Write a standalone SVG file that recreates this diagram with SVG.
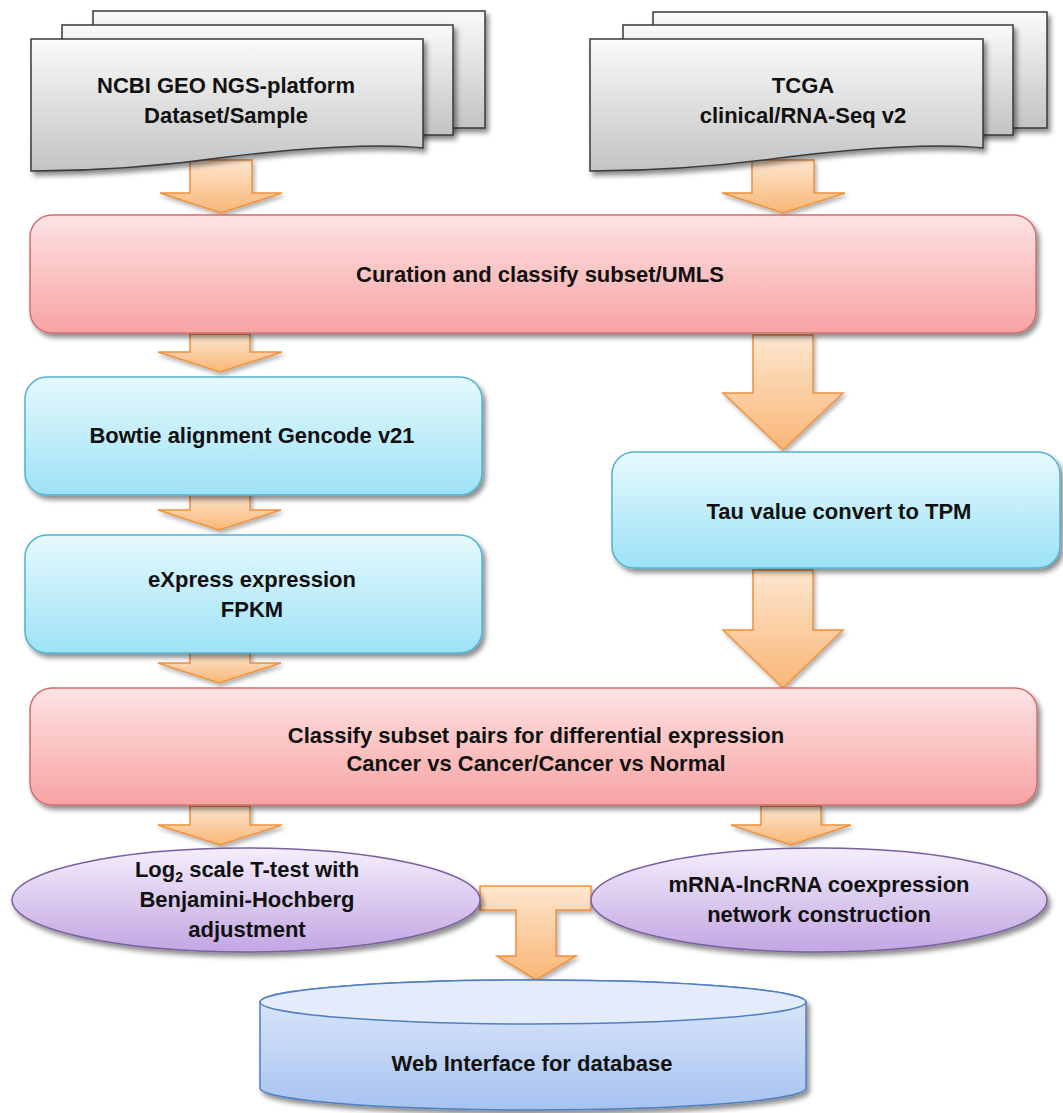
<svg xmlns="http://www.w3.org/2000/svg" width="1063" height="1113" viewBox="0 0 1063 1113">
<defs>
  <linearGradient id="gDoc" x1="0" y1="0" x2="0" y2="1"><stop offset="0" stop-color="#fafafa"/><stop offset="1" stop-color="#c3c3c3"/></linearGradient>
  <linearGradient id="gRed" x1="0" y1="0" x2="0" y2="1"><stop offset="0" stop-color="#fde3e3"/><stop offset="1" stop-color="#f8a3a3"/></linearGradient>
  <linearGradient id="gBlue" x1="0" y1="0" x2="0" y2="1"><stop offset="0" stop-color="#e6f9fd"/><stop offset="1" stop-color="#9de2f6"/></linearGradient>
  <linearGradient id="gPur" x1="0" y1="0" x2="0" y2="1"><stop offset="0" stop-color="#f4eefb"/><stop offset="1" stop-color="#c2a6e2"/></linearGradient>
  <linearGradient id="gCyl" x1="0" y1="0" x2="0" y2="1"><stop offset="0" stop-color="#e2ebfb"/><stop offset="1" stop-color="#a6c3f1"/></linearGradient>
  <linearGradient id="gArr" x1="0" y1="0" x2="0" y2="1"><stop offset="0" stop-color="#fde6cf"/><stop offset="1" stop-color="#f9b676"/></linearGradient>
  <filter id="sh" x="-10%" y="-10%" width="125%" height="130%"><feDropShadow dx="3" dy="4" stdDeviation="2.5" flood-color="#000" flood-opacity="0.45"/></filter>
  <filter id="sha" x="-10%" y="-10%" width="130%" height="130%"><feDropShadow dx="2" dy="3" stdDeviation="2" flood-color="#000" flood-opacity="0.3"/></filter>
</defs>
<style>
  .doc{fill:url(#gDoc);stroke:#3a3a3a;stroke-width:1.5;filter:url(#sh)}
  .red{fill:url(#gRed);stroke:#cf6f6f;stroke-width:1.5;filter:url(#sh)}
  .blue{fill:url(#gBlue);stroke:#4fb3cf;stroke-width:1.5;filter:url(#sh)}
  .pur{fill:url(#gPur);stroke:#7b5fa0;stroke-width:1.5;filter:url(#sh)}
  .cyl{fill:url(#gCyl);stroke:#4f7fc0;stroke-width:1.5;filter:url(#sh)}
  .arr{fill:url(#gArr);stroke:#f0913e;stroke-width:1.5;filter:url(#sha)}
  text{font-family:"Liberation Sans",Arial,sans-serif;font-weight:bold;font-size:22px;fill:#111;text-anchor:middle}
</style>

<g id="connectors">
  <path class="arr" d="M190,160 H252 V193 H282 L221,213 L160,193 H190 Z"/>
  <path class="arr" d="M752,160 H814 V193 H845 L783,213 L722,193 H752 Z"/>
  <path class="arr" d="M190,334 H250 V352 H282 L220,372 L158,352 H190 Z"/>
  <path class="arr" d="M753,335 H813 V393 H843 L783,450 L723,393 H753 Z"/>
  <path class="arr" d="M190,494 H250 V510 H281 L219,530 L158,510 H190 Z"/>
  <path class="arr" d="M753,570 H813 V630 H843 L783,688 L723,630 H753 Z"/>
  <path class="arr" d="M190,653 H250 V663 H281 L219,683 L158,663 H190 Z"/>
  <path class="arr" d="M190,806 H250 V825 H282 L220,845 L158,825 H190 Z"/>
  <path class="arr" d="M761,806 H821 V825 H851 L791,845 L731,825 H761 Z"/>
  <path class="arr" d="M480,886 H591 V910 H556 V956 H576 L536,980 L497,956 H516 V910 H480 Z"/>
</g>

<g id="node-geo">
  <rect class="doc" x="93" y="11" width="392" height="117"/>
  <rect class="doc" x="62" y="25" width="391" height="110"/>
  <path class="doc" d="M31,39 H423 V148 C380,143 300,148 227,157 C170,165 110,171 31,171 Z"/>
  <text x="226" y="93">NCBI GEO NGS-platform</text>
  <text x="226" y="123">Dataset/Sample</text>
</g>

<g id="node-tcga">
  <rect class="doc" x="653" y="12" width="394" height="116"/>
  <rect class="doc" x="623" y="25" width="390" height="110"/>
  <path class="doc" d="M590,39 H983 V148 C940,143 860,148 787,157 C730,165 670,171 590,171 Z"/>
  <text x="803" y="93">TCGA</text>
  <text x="803" y="123">clinical/RNA-Seq v2</text>
</g>

<g id="node-curation">
  <rect class="red" x="30" y="215" width="1006" height="118" rx="22"/>
  <text x="540" y="282">Curation and classify subset/UMLS</text>
</g>

<g id="node-bowtie">
  <rect class="blue" x="25" y="377" width="457" height="118" rx="22"/>
  <text x="252" y="443">Bowtie alignment Gencode v21</text>
</g>

<g id="node-tau">
  <rect class="blue" x="612" y="452" width="448" height="116" rx="22"/>
  <text x="839" y="519">Tau value convert to TPM</text>
</g>

<g id="node-express">
  <rect class="blue" x="25" y="535" width="457" height="118" rx="22"/>
  <text x="252" y="587">eXpress expression</text>
  <text x="252" y="617">FPKM</text>
</g>

<g id="node-classify">
  <rect class="red" x="30" y="688" width="1007" height="117" rx="22"/>
  <text x="536" y="743">Classify subset pairs for differential expression</text>
  <text x="536" y="771">Cancer vs Cancer/Cancer vs Normal</text>
</g>

<g id="node-ttest">
  <ellipse class="pur" cx="246" cy="900" rx="234" ry="52"/>
  <text x="247" y="877">Log<tspan font-size="14" dy="5">2</tspan><tspan dy="-5"> scale T-test with</tspan></text>
  <text x="247" y="907">Benjamini-Hochberg</text>
  <text x="247" y="937">adjustment</text>
</g>

<g id="node-network">
  <ellipse class="pur" cx="819" cy="900" rx="228" ry="52"/>
  <text x="819" y="892">mRNA-lncRNA coexpression</text>
  <text x="819" y="922">network construction</text>
</g>

<g id="node-web">
  <path class="cyl" d="M260,1002 V1088 A273,22 0 0 0 806,1088 V1002 A273,22 0 0 0 260,1002 Z"/>
  <ellipse cx="533" cy="1002" rx="273" ry="22" fill="#e4ecfb" stroke="#4f7fc0" stroke-width="1.5"/>
  <text x="532" y="1071">Web Interface for database</text>
</g>
</svg>
